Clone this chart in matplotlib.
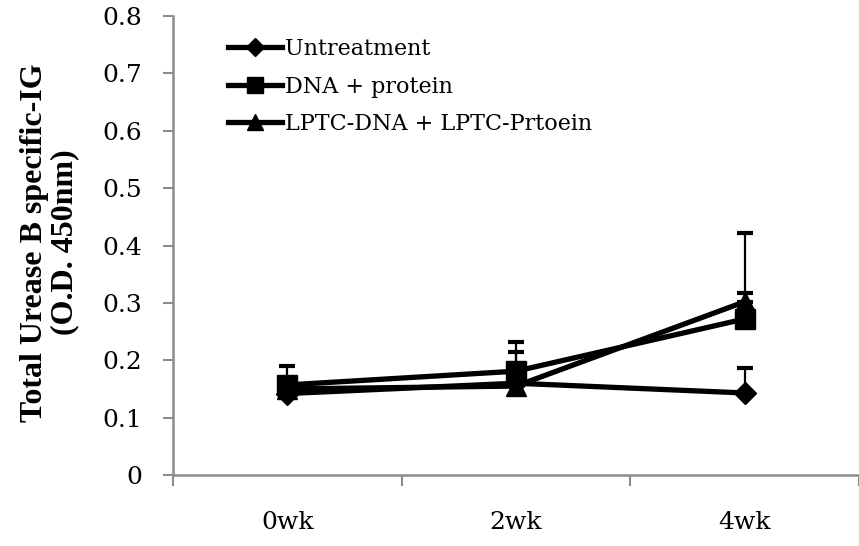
import numpy as np
import matplotlib
matplotlib.use("Agg")
import matplotlib.pyplot as plt
from matplotlib.lines import Line2D

weeks = ["0wk", "2wk", "4wk"]
series_names = ["Untreatment", "DNA + protein", "LPTC-DNA + LPTC-Prtoein"]
untreat = [0.142, 0.160, 0.143]
untreat_err = [0.010, 0.055, 0.043]
dna_protein = [0.157, 0.181, 0.272]
dna_protein_err = [0.033, 0.050, 0.046]
lptc = [0.150, 0.155, 0.302]
lptc_err = [0.010, 0.010, 0.120]

markers = ["D", "s", "^"]
msizes = [11, 14, 14]

tick_font = "DejaVu Serif"
axis_grey = "#8c8c8c"

fig = plt.figure(figsize=(8.59, 5.46), dpi=100)
ax = fig.add_axes([0.2014, 0.130, 0.7986, 0.8407])

x = np.arange(len(weeks))
handles = []
for vals, errs, name, m, ms in zip([untreat, dna_protein, lptc],
                                   [untreat_err, dna_protein_err, lptc_err],
                                   series_names, markers, msizes):
    ax.errorbar(x, vals, yerr=[np.zeros(len(errs)), errs], color="black",
                lw=3.8, marker=m, markersize=ms, elinewidth=1.6, capsize=6,
                capthick=3, clip_on=False)
    handles.append(Line2D([], [], color="black", lw=3.8, marker=m,
                          markersize=ms - 2, label=name))

ax.set_xlim(-0.5, 2.457)
ax.set_ylim(0, 0.8)
ax.set_yticks(np.arange(0, 0.81, 0.1))
ax.set_yticklabels(["0"] + ["%.1f" % v for v in np.arange(0.1, 0.81, 0.1)])

# category boundaries carry the ticks, labels sit in the middle
ax.set_xticks([-0.5, 0.5, 1.5, 2.5])
ax.set_xticklabels([])
ax.set_xticks(x, minor=True)
ax.set_xticklabels(weeks, minor=True)
ax.tick_params(axis="x", which="major", length=8, width=1.5, color=axis_grey)
ax.tick_params(axis="x", which="minor", length=0, pad=26)
ax.tick_params(axis="y", length=7, width=1.5, color=axis_grey, pad=15)
for lab in ax.get_xticklabels(minor=True) + ax.get_yticklabels():
    lab.set_fontfamily(tick_font)
    lab.set_fontsize(18)

for side in ["top", "right"]:
    ax.spines[side].set_visible(False)
for side in ["left", "bottom"]:
    ax.spines[side].set_color(axis_grey)
    ax.spines[side].set_linewidth(1.8)

ax.set_ylabel("Total Urease B specific-IG\n(O.D. 450nm)", fontsize=23,
              fontweight="bold", family="Liberation Serif", linespacing=1.1)
ax.yaxis.set_label_coords(-0.136, 0.507)

ax.legend(handles=handles, loc="upper left", bbox_to_anchor=(0.08, 0.952),
          frameon=False, prop={"family": tick_font, "size": 16},
          handlelength=2.45, handletextpad=0.1, labelspacing=0.7,
          borderaxespad=0, borderpad=0)

fig.savefig("out.png", dpi=100)
